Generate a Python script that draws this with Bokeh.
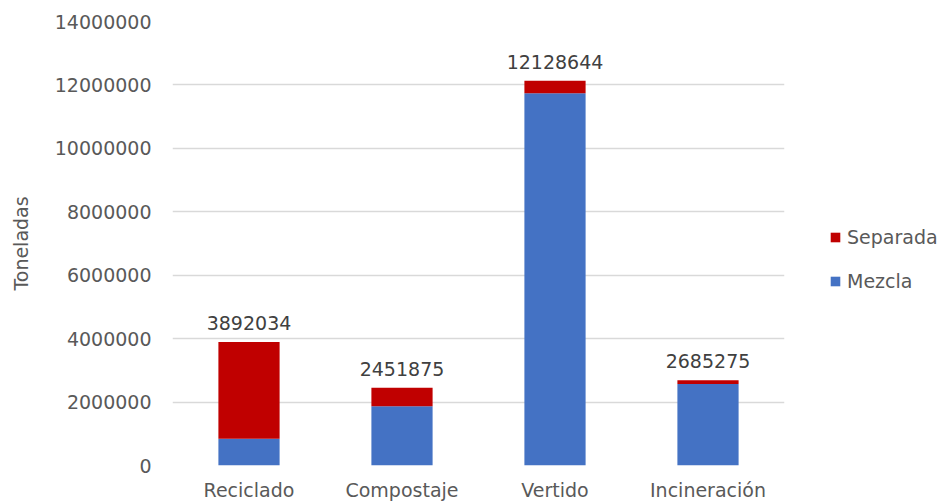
from bokeh.plotting import figure
from bokeh.layouts import row
from bokeh.models import ColumnDataSource, Legend, LegendItem, LabelSet, FactorRange, Range1d, NumeralTickFormatter, FixedTicker
from bokeh.core.properties import value
from bokeh.embed import file_html
from bokeh.resources import INLINE

# Toneladas por destino de tratamiento
categorias = ["Reciclado", "Compostaje", "Vertido", "Incineración"]
totales = [3892034, 2451875, 12128644, 2685275]
mezcla = [840000, 1865000, 11740000, 2570000]
separada = [t - m for t, m in zip(totales, mezcla)]
series = ["Mezcla", "Separada"]
y_ticks = [0, 2000000, 4000000, 6000000, 8000000, 10000000, 12000000, 14000000]

FONT = "DejaVu Sans"
AZUL = "#4472C4"
ROJO = "#C00000"
GRIS = "#595959"
COLORES = [AZUL, ROJO]

source = ColumnDataSource(dict(
    cat=categorias,
    Mezcla=mezcla,
    Separada=separada,
    total=totales,
    etiqueta=[str(t) for t in totales],
))

p = figure(
    width=800, height=503,
    x_range=FactorRange(*categorias, range_padding=0),
    y_range=Range1d(0, 14000000),
    output_backend="svg", toolbar_location=None,
    min_border_left=172, min_border_right=16,
    min_border_top=21, min_border_bottom=37,
)
p.outline_line_color = None

p.vbar_stack(series, x="cat", width=0.4, source=source,
             color=COLORES, line_color=None)

labels = LabelSet(x="cat", y="total", text="etiqueta", source=source,
                  text_align="center", text_baseline="bottom", y_offset=12,
                  text_font=value(FONT), text_font_size="19px", text_color="#404040")
p.add_layout(labels)

p.yaxis.ticker = FixedTicker(ticks=y_ticks)
p.yaxis.formatter = NumeralTickFormatter(format="0")
p.yaxis.axis_label = "Toneladas"
p.yaxis.axis_label_text_font = FONT
p.yaxis.axis_label_text_font_size = "19px"
p.yaxis.axis_label_text_font_style = "normal"
p.yaxis.axis_label_text_color = GRIS
p.yaxis.axis_label_standoff = 20
p.yaxis.major_label_standoff = 15

for ax in (p.xaxis[0], p.yaxis[0]):
    ax.axis_line_color = None
    ax.major_tick_line_color = None
    ax.minor_tick_line_color = None
    ax.major_label_text_font = FONT
    ax.major_label_text_font_size = "19px"
    ax.major_label_text_color = GRIS
p.xaxis.major_label_standoff = 7

p.xgrid.grid_line_color = None
p.ygrid.grid_line_color = "#D9D9D9"
p.ygrid.grid_line_width = 1.5

# Leyenda en un panel lateral propio; las muestras son renderers ocultos
pl = figure(width=144, height=503, output_backend="svg", toolbar_location=None,
            min_border=0, x_range=FactorRange(*categorias),
            y_range=Range1d(0, 14000000))
pl.axis.visible = False
pl.grid.visible = False
pl.outline_line_color = None
por_serie = {s: pl.vbar(x="cat", top=s, width=0.4, source=source,
                        color=c, line_color=None, visible=False)
             for s, c in zip(series, COLORES)}

legend = Legend(items=[LegendItem(label=s, renderers=[por_serie[s]]) for s in reversed(series)],
                location=(29, 173), padding=0, margin=0, spacing=22,
                glyph_width=12, glyph_height=12, label_height=20, label_standoff=6,
                label_text_font=FONT, label_text_font_size="19px", label_text_color=GRIS,
                inactive_fill_alpha=0, inactive_fill_color="white",
                border_line_color=None, background_fill_alpha=0)
pl.add_layout(legend, "center")

layout = row(p, pl)
open("out.html", "w").write(file_html(layout, INLINE))
